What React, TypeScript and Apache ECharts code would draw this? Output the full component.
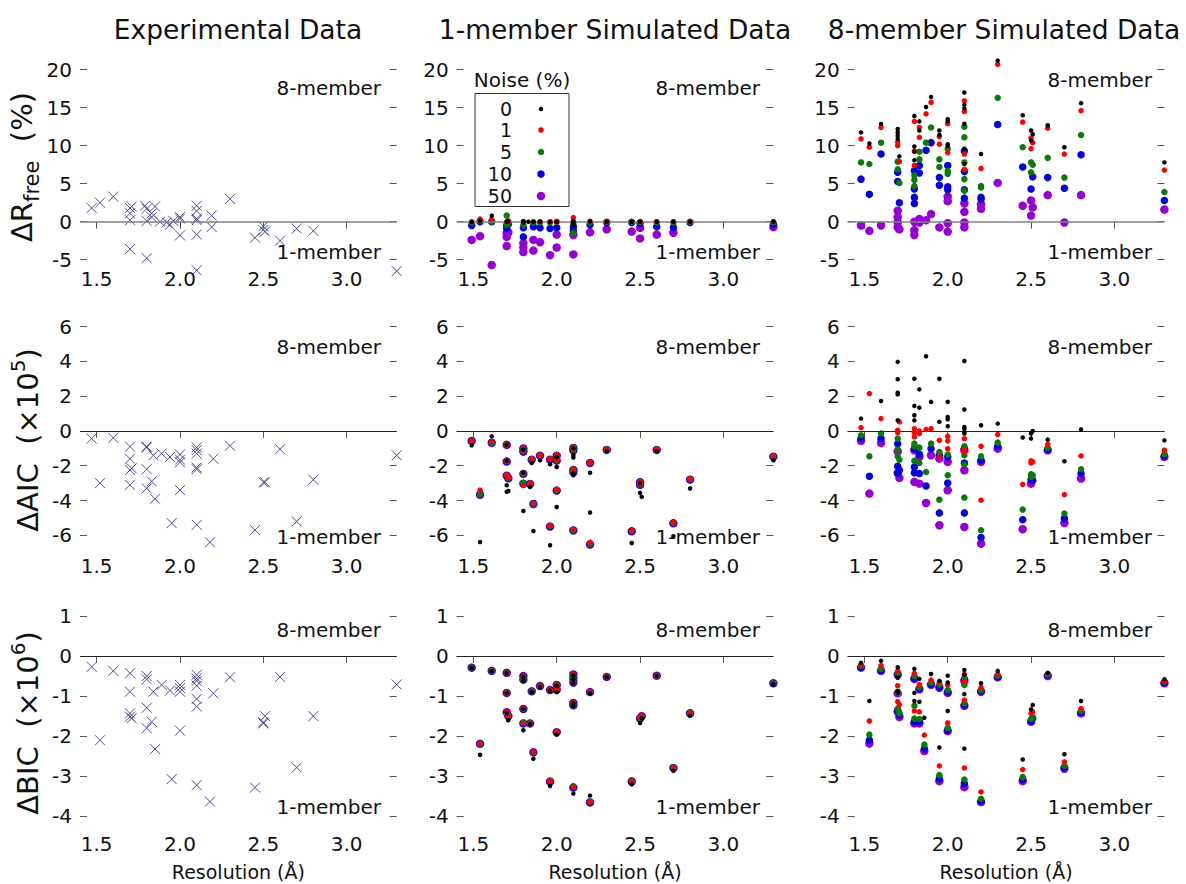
import React, { useEffect, useRef } from "react";
import * as echarts from "echarts";

const FONT = "'DejaVu Sans', Verdana, sans-serif";
const TEXT = "#111";

// ---- axes ----
const xTicks = [1.5, 2.0, 2.5, 3.0];
const rfreeTicks = [-5, 0, 5, 10, 15, 20];
const aicTicks = [-6, -4, -2, 0, 2, 4, 6];
const bicTicks = [-4, -3, -2, -1, 0, 1];
const columnTitles = ["Experimental Data", "1-member Simulated Data", "8-member Simulated Data"];
const noiseLabels = ["0", "1", "5", "10", "50"];
const noiseColors = ["#000000", "#ff0000", "#0a7a0a", "#0000e0", "#9400d3"];
const noiseSizes = [4.5, 5.5, 6.5, 7.5, 8.5];

// ---- experimental data (x: resolution Å, y: delta) ----
const rfreeExp = [
  [1.47, 1.8], [1.52, 2.5], [1.6, 3.3], [1.7, 1.1], [1.7, 1.8], [1.71, 2.0], [1.7, 0.2], [1.7, -3.6],
  [1.79, 2.1], [1.8, 1.7], [1.8, 0.1], [1.8, -4.8], [1.83, 1.1], [1.83, 0.6], [1.85, 2.0], [1.88, 0.0],
  [1.92, -0.1], [1.94, -0.4], [1.96, 0.1], [2.0, 0.4], [2.0, 0.6], [2.0, -1.8],
  [2.1, 2.1], [2.1, 1.4], [2.1, 0.4], [2.1, 0.2], [2.1, -1.7], [2.1, -6.4], [2.19, 0.8], [2.19, -0.7],
  [2.3, 3.0], [2.45, -2.1], [2.5, -0.6], [2.5, -1.1], [2.51, -1.3], [2.6, -2.5], [2.7, -0.9], [2.8, -1.2], [3.3, -6.5],
];
const aicExp = [
  [1.47, -0.44], [1.52, -3.0], [1.6, -0.4], [1.7, -0.9], [1.7, -1.6], [1.7, -2.25], [1.71, -2.15], [1.7, -3.1],
  [1.8, -0.9], [1.8, -0.95], [1.8, -2.2], [1.8, -3.3], [1.83, -2.9], [1.84, -1.4], [1.85, -3.9], [1.89, -1.3],
  [1.94, -1.5], [1.95, -5.3], [2.0, -1.35], [2.0, -1.65], [2.0, -1.8], [2.0, -3.4],
  [2.1, -0.95], [2.1, -1.1], [2.1, -1.3], [2.1, -2.1], [2.1, -2.2], [2.1, -5.4], [2.2, -1.6], [2.18, -6.4],
  [2.3, -0.85], [2.45, -5.7], [2.5, -2.95], [2.51, -2.95], [2.6, -1.05], [2.7, -5.2], [2.8, -2.8], [3.3, -1.4],
];
const bicExp = [
  [1.47, -0.27], [1.52, -2.1], [1.6, -0.37], [1.7, -0.43], [1.7, -0.89], [1.7, -1.43], [1.7, -1.51], [1.71, -1.55],
  [1.8, -0.5], [1.8, -0.58], [1.8, -1.29], [1.8, -1.8], [1.83, -1.64], [1.84, -0.89], [1.85, -2.32], [1.89, -0.72],
  [1.94, -0.86], [1.95, -3.07], [2.0, -0.72], [2.0, -0.8], [2.0, -0.89], [2.0, -1.86],
  [2.1, -0.47], [2.1, -0.56], [2.1, -0.62], [2.1, -0.74], [2.1, -1.07], [2.1, -1.26], [2.1, -3.22], [2.2, -0.93], [2.18, -3.63],
  [2.3, -0.53], [2.45, -3.28], [2.5, -1.68], [2.5, -1.65], [2.51, -1.5], [2.6, -0.52], [2.7, -2.78], [2.8, -1.5], [3.3, -0.71],
];

// ---- 1-member simulated, ΔRfree ----
const rfree1_n0 = [[1.49, -0.05], [1.54, 0.1], [1.61, 0.8], [1.7, 0], [1.71, 0.05], [1.8, -0.1], [1.8, 0.05], [1.83, 0], [1.86, 0], [1.9, 0], [1.96, 0], [2.0, 0], [2.1, 0.1], [2.1, -0.2], [2.1, -0.4], [2.2, 0.05], [2.3, 0], [2.45, 0], [2.5, 0], [2.6, 0], [2.7, 0], [2.8, 0], [3.3, 0]];
const rfree1_n1 = [[1.49, 0], [1.54, 0.35], [1.61, 0.35], [1.7, 0], [1.71, 0.1], [1.8, 0], [1.86, 0], [1.9, 0], [1.96, 0], [2.0, 0], [2.1, 0.55], [2.1, 0], [2.2, 0.05], [2.3, 0], [2.45, 0], [2.5, 0], [2.6, 0], [2.7, 0], [2.8, 0], [3.3, 0]];
const rfree1_n5 = [[1.49, -0.1], [1.54, 0.1], [1.61, 0], [1.7, 0.8], [1.7, -0.4], [1.71, -0.1], [1.8, -0.45], [1.86, -0.1], [1.9, -0.1], [1.96, -0.1], [2.0, 0], [2.1, -0.2], [2.1, -1.5], [2.2, -0.1], [2.3, 0], [2.45, 0], [2.5, -0.05], [2.6, -0.1], [2.7, -0.1], [2.8, 0], [3.3, -0.1]];
const rfree1_n10 = [[1.49, -0.5], [1.54, 0], [1.61, 0], [1.7, -0.5], [1.7, -0.9], [1.71, -0.3], [1.8, -2.0], [1.8, -0.8], [1.86, -0.65], [1.9, -0.8], [1.96, -0.9], [2.0, -0.8], [2.1, -0.65], [2.1, -1.2], [2.2, -0.4], [2.3, -0.1], [2.45, -0.1], [2.5, -0.2], [2.6, -0.65], [2.7, -0.75], [2.8, -0.1], [3.3, -0.35]];
const rfree1_n50 = [[1.49, -2.4], [1.54, -1.9], [1.61, -5.7], [1.7, -1.5], [1.7, -2.0], [1.7, -3.2], [1.71, -1.4], [1.8, -2.85], [1.8, -3.4], [1.8, -4.0], [1.86, -2.4], [1.86, -3.8], [1.9, -2.7], [1.96, -4.4], [2.0, -1.7], [2.0, -3.4], [2.1, -1.75], [2.1, -4.3], [2.2, -1.4], [2.3, -1.0], [2.45, -1.3], [2.5, -2.2], [2.5, -0.8], [2.6, -1.7], [2.7, -1.45], [3.3, -0.7]];

// ---- 8-member simulated, ΔRfree ----
const rfree8_n0 = [[1.48, 11.75], [1.53, 10.3], [1.6, 12.85], [1.7, 12.2], [1.7, 11.75], [1.7, 11.3], [1.7, 10.9], [1.71, 8.6], [1.8, 13.9], [1.8, 9.9], [1.8, 9.2], [1.8, 8.1], [1.83, 13.2], [1.83, 12.0], [1.87, 15.1], [1.9, 16.4], [1.95, 12.0], [1.95, 11.4], [2.0, 13.5], [2.0, 13.2], [2.0, 10.2], [2.0, 10.0], [2.1, 17.0], [2.1, 15.4], [2.1, 14.9], [2.1, 12.9], [2.1, 9.6], [2.1, 7.6], [2.2, 8.9], [2.3, 21.2], [2.45, 14.0], [2.5, 12.0], [2.5, 10.7], [2.51, 11.5], [2.6, 12.7], [2.7, 9.8], [2.8, 15.6], [3.3, 7.8]];
const rfree8_n1 = [[1.48, 10.9], [1.53, 9.8], [1.6, 12.4], [1.7, 10.5], [1.7, 10.0], [1.71, 7.9], [1.8, 13.2], [1.8, 9.3], [1.8, 7.4], [1.83, 12.4], [1.83, 11.1], [1.87, 14.2], [1.9, 15.7], [1.95, 11.2], [1.95, 10.2], [2.0, 12.9], [2.0, 9.1], [2.1, 15.9], [2.1, 14.5], [2.1, 8.9], [2.1, 6.9], [2.2, 7.0], [2.3, 20.7], [2.45, 13.1], [2.5, 11.0], [2.5, 9.6], [2.51, 10.4], [2.6, 12.3], [2.7, 8.9], [2.8, 14.6], [3.3, 6.8]];
const rfree8_n5 = [[1.48, 7.8], [1.53, 7.6], [1.6, 10.4], [1.7, 7.9], [1.7, 6.9], [1.71, 5.1], [1.8, 6.1], [1.8, 5.5], [1.8, 4.7], [1.83, 9.2], [1.83, 8.2], [1.87, 10.4], [1.9, 12.4], [1.95, 8.2], [1.95, 7.2], [2.0, 9.6], [2.0, 6.7], [2.0, 6.3], [2.1, 12.5], [2.1, 11.1], [2.1, 7.8], [2.1, 5.6], [2.1, 4.1], [2.2, 4.7], [2.2, 4.5], [2.3, 16.3], [2.45, 9.8], [2.5, 7.8], [2.5, 6.5], [2.51, 7.5], [2.6, 8.4], [2.7, 5.8], [2.8, 11.4], [3.3, 3.9]];
const rfree8_n10 = [[1.48, 5.6], [1.53, 3.6], [1.6, 8.9], [1.7, 6.5], [1.7, 5.3], [1.71, 2.5], [1.8, 6.7], [1.8, 4.3], [1.8, 3.2], [1.8, 2.4], [1.83, 7.4], [1.83, 6.4], [1.87, 9.4], [1.9, 10.4], [1.95, 5.8], [1.95, 4.8], [2.0, 7.4], [2.0, 4.6], [2.0, 4.2], [2.1, 9.3], [2.1, 6.6], [2.1, 4.2], [2.1, 3.1], [2.2, 3.0], [2.2, 3.2], [2.3, 12.8], [2.45, 7.2], [2.5, 4.3], [2.51, 5.9], [2.6, 5.8], [2.7, 4.4], [2.8, 8.8], [3.3, 2.8]];
const rfree8_n50 = [[1.48, -0.5], [1.53, -1.2], [1.6, -0.5], [1.7, 1.45], [1.7, 0.6], [1.7, -0.1], [1.7, -0.75], [1.71, -1.0], [1.8, 0.0], [1.8, -1.1], [1.8, -1.75], [1.83, 0.35], [1.83, -0.1], [1.87, 0.2], [1.9, 1.0], [1.95, -0.75], [2.0, 3.3], [2.0, 2.7], [2.0, -0.2], [2.0, -1.3], [2.1, 2.4], [2.1, 1.3], [2.1, -0.1], [2.1, -0.75], [2.2, 2.3], [2.2, 1.7], [2.3, 5.1], [2.45, 2.1], [2.5, 2.8], [2.5, 0.8], [2.51, 1.9], [2.6, 3.5], [2.7, -0.1], [2.8, 3.5], [3.3, 1.6]];

// ---- 1-member simulated, ΔAIC (×10^5) ----
const aic1_n0 = [[1.49, -0.82], [1.54, -6.38], [1.61, -0.31], [1.7, -0.8], [1.7, -1.72], [1.7, -3.12], [1.7, -3.5], [1.71, -3.45], [1.8, -1.07], [1.8, -2.41], [1.8, -4.6], [1.84, -3.22], [1.85, -1.84], [1.86, -5.75], [1.9, -1.69], [1.96, -1.92], [1.96, -6.57], [2.0, -1.49], [2.0, -2.07], [2.0, -4.37], [2.1, -1.0], [2.1, -1.4], [2.1, -1.53], [2.1, -2.45], [2.1, -2.55], [2.2, -2.4], [2.2, -4.69], [2.3, -1.15], [2.45, -6.44], [2.5, -3.0], [2.5, -3.56], [2.51, -3.79], [2.6, -1.17], [2.7, -6.05], [2.8, -3.31], [3.3, -1.69]];
const aic1_n1 = [[1.49, -0.55], [1.54, -3.4], [1.61, -0.6], [1.7, -0.79], [1.7, -1.74], [1.7, -2.52], [1.71, -2.68], [1.8, -0.98], [1.8, -1.15], [1.8, -2.42], [1.8, -3.15], [1.84, -3.0], [1.85, -1.6], [1.86, -4.16], [1.9, -1.38], [1.96, -1.6], [1.96, -5.45], [2.0, -1.38], [2.0, -1.67], [2.0, -3.38], [2.1, -0.94], [2.1, -1.08], [2.1, -2.2], [2.1, -2.34], [2.1, -5.66], [2.2, -1.8], [2.2, -6.4], [2.3, -1.05], [2.45, -5.73], [2.5, -2.9], [2.5, -3.05], [2.6, -1.05], [2.7, -5.27], [2.8, -2.76], [3.3, -1.44]];
const aic1_n5 = [[1.49, -0.57], [1.54, -3.65], [1.61, -0.67], [1.7, -0.79], [1.7, -1.74], [1.7, -2.55], [1.71, -2.7], [1.8, -1.0], [1.8, -1.17], [1.8, -2.45], [1.8, -3.0], [1.84, -3.03], [1.85, -1.63], [1.86, -4.18], [1.9, -1.4], [1.96, -1.63], [1.96, -5.48], [2.0, -1.4], [2.0, -1.69], [2.0, -3.41], [2.1, -0.96], [2.1, -1.1], [2.1, -2.22], [2.1, -2.36], [2.1, -5.7], [2.2, -1.82], [2.2, -6.5], [2.3, -1.07], [2.45, -5.75], [2.5, -2.93], [2.5, -3.08], [2.6, -1.07], [2.7, -5.29], [2.8, -2.78], [3.3, -1.46]];
const aic1_n10 = [[1.49, -0.57], [1.54, -3.66], [1.61, -0.67], [1.7, -0.8], [1.7, -1.75], [1.7, -2.56], [1.71, -2.71], [1.8, -1.0], [1.8, -1.18], [1.8, -2.46], [1.8, -3.02], [1.84, -3.04], [1.85, -1.64], [1.86, -4.19], [1.9, -1.41], [1.96, -1.64], [1.96, -5.49], [2.0, -1.41], [2.0, -1.7], [2.0, -3.42], [2.1, -0.97], [2.1, -1.11], [2.1, -2.23], [2.1, -2.37], [2.1, -5.71], [2.2, -1.83], [2.2, -6.52], [2.3, -1.08], [2.45, -5.76], [2.5, -2.94], [2.5, -3.09], [2.6, -1.08], [2.7, -5.3], [2.8, -2.79], [3.3, -1.47]];
const aic1_n50 = [[1.49, -0.58], [1.54, -3.67], [1.61, -0.68], [1.7, -0.8], [1.7, -1.76], [1.7, -2.57], [1.71, -2.72], [1.8, -1.01], [1.8, -1.19], [1.8, -2.47], [1.8, -3.03], [1.84, -3.05], [1.85, -1.65], [1.86, -4.2], [1.9, -1.42], [1.96, -1.65], [1.96, -5.5], [2.0, -1.42], [2.0, -1.71], [2.0, -3.43], [2.1, -0.98], [2.1, -1.12], [2.1, -2.24], [2.1, -2.38], [2.1, -5.72], [2.2, -1.84], [2.2, -6.53], [2.3, -1.09], [2.45, -5.77], [2.5, -2.95], [2.5, -3.1], [2.6, -1.09], [2.7, -5.31], [2.8, -2.8], [3.3, -1.48]];

// ---- 8-member simulated, ΔAIC (×10^5) ----
const aic8_n0 = [[1.48, 0.71], [1.6, 1.72], [1.7, 3.97], [1.7, 2.97], [1.7, 2.2], [1.7, 2.1], [1.7, 0.61], [1.8, 3.0], [1.8, 1.44], [1.8, 0.9], [1.8, 0.61], [1.83, 2.39], [1.83, 1.34], [1.87, 4.29], [1.9, 1.67], [1.95, 3.0], [1.95, 0.52], [2.0, 1.67], [2.0, 0.8], [2.0, 0.67], [2.0, 0.27], [2.1, 4.02], [2.1, 1.23], [2.1, 0.23], [2.1, 0.13], [2.1, -0.06], [2.1, -0.15], [2.2, 0.33], [2.3, 0.42], [2.45, -0.38], [2.5, -0.15], [2.5, -0.44], [2.51, 0.0], [2.6, -0.5], [2.7, -1.74], [2.8, 0.08], [3.3, -0.54]];
const aic8_n1 = [[1.48, 0.19], [1.53, 2.15], [1.6, 0.71], [1.7, 0.04], [1.7, -0.1], [1.71, 0.52], [1.8, 0.13], [1.8, -0.11], [1.8, -0.34], [1.83, 0.0], [1.83, -0.15], [1.87, 0.08], [1.9, 0.13], [1.95, -0.54], [1.95, -1.49], [2.0, -0.31], [2.0, -0.57], [2.0, -1.02], [2.1, -0.44], [2.1, -1.07], [2.1, -1.21], [2.2, -0.88], [2.2, -3.98], [2.3, -0.21], [2.45, -3.07], [2.5, -1.72], [2.5, -1.84], [2.51, -1.78], [2.6, -0.77], [2.7, -3.66], [2.8, -1.44], [3.3, -1.11]];
const aic8_n5 = [[1.48, -0.25], [1.53, -1.46], [1.6, -0.15], [1.7, -0.44], [1.7, -1.07], [1.7, -1.46], [1.71, -1.65], [1.8, -0.73], [1.8, -0.88], [1.8, -1.72], [1.83, -0.96], [1.83, -1.84], [1.87, -2.36], [1.9, -0.73], [1.95, -1.21], [1.95, -3.95], [2.0, -1.36], [2.0, -2.55], [2.1, -0.88], [2.1, -1.4], [2.1, -1.93], [2.1, -3.83], [2.2, -1.46], [2.2, -5.71], [2.3, -0.67], [2.45, -4.52], [2.5, -2.49], [2.5, -2.64], [2.51, -2.55], [2.6, -0.98], [2.7, -4.75], [2.8, -2.2], [3.3, -1.34]];
const aic8_n10 = [[1.48, -0.44], [1.53, -2.6], [1.6, -0.44], [1.7, -0.73], [1.7, -2.03], [1.7, -2.45], [1.71, -2.26], [1.8, -1.02], [1.8, -2.07], [1.8, -2.41], [1.83, -1.34], [1.83, -2.45], [1.87, -3.16], [1.9, -1.02], [1.95, -1.4], [1.95, -4.71], [2.0, -1.49], [2.0, -2.99], [2.1, -1.02], [2.1, -1.84], [2.1, -4.71], [2.2, -1.69], [2.2, -6.13], [2.3, -0.88], [2.45, -5.1], [2.5, -2.8], [2.51, -2.84], [2.6, -1.07], [2.7, -5.04], [2.8, -2.45], [3.3, -1.44]];
const aic8_n50 = [[1.48, -0.57], [1.53, -3.6], [1.6, -0.69], [1.7, -1.17], [1.7, -2.41], [1.71, -2.7], [1.8, -1.11], [1.8, -2.93], [1.83, -1.49], [1.83, -3.03], [1.87, -4.14], [1.9, -1.4], [1.95, -1.59], [1.95, -5.42], [2.0, -1.78], [2.0, -3.41], [2.1, -1.11], [2.1, -2.26], [2.1, -5.52], [2.2, -1.78], [2.2, -6.48], [2.3, -1.02], [2.45, -5.65], [2.5, -3.03], [2.6, -1.11], [2.7, -5.29], [2.8, -2.74], [3.3, -1.49]];

// ---- 1-member simulated, ΔBIC (×10^6) ----
const bic1_n0 = [[1.49, -0.3], [1.54, -2.46], [1.61, -0.38], [1.7, -0.43], [1.7, -0.93], [1.7, -1.42], [1.71, -1.6], [1.8, -0.52], [1.8, -0.62], [1.8, -1.33], [1.8, -1.85], [1.84, -1.7], [1.85, -0.9], [1.86, -2.56], [1.9, -0.77], [1.96, -0.87], [1.96, -3.24], [2.0, -0.74], [2.0, -0.9], [2.0, -1.96], [2.1, -0.48], [2.1, -0.58], [2.1, -0.68], [2.1, -1.18], [2.1, -1.24], [2.1, -3.43], [2.2, -0.93], [2.2, -3.48], [2.3, -0.53], [2.45, -3.2], [2.5, -1.67], [2.51, -1.55], [2.6, -0.5], [2.7, -2.86], [2.8, -1.49], [3.3, -0.7]];
const bic1_n1 = [[1.49, -0.29], [1.54, -2.18], [1.61, -0.37], [1.7, -0.42], [1.7, -0.92], [1.7, -1.39], [1.71, -1.49], [1.8, -0.49], [1.8, -0.58], [1.8, -1.31], [1.8, -1.68], [1.84, -1.68], [1.85, -0.88], [1.86, -2.39], [1.9, -0.75], [1.96, -0.85], [1.96, -3.12], [2.0, -0.72], [2.0, -0.83], [2.0, -1.89], [2.1, -0.46], [2.1, -0.56], [2.1, -0.66], [2.1, -1.16], [2.1, -1.22], [2.1, -3.27], [2.2, -0.89], [2.2, -3.64], [2.3, -0.52], [2.45, -3.12], [2.5, -1.54], [2.51, -1.49], [2.6, -0.49], [2.7, -2.78], [2.8, -1.42], [3.3, -0.68]];
const bic1_n5 = [[1.49, -0.29], [1.54, -2.19], [1.61, -0.37], [1.7, -0.42], [1.7, -0.92], [1.7, -1.4], [1.71, -1.5], [1.8, -0.52], [1.8, -0.6], [1.8, -1.32], [1.8, -1.66], [1.84, -1.68], [1.85, -0.88], [1.86, -2.4], [1.9, -0.75], [1.96, -0.85], [1.96, -3.12], [2.0, -0.72], [2.0, -0.84], [2.0, -1.9], [2.1, -0.46], [2.1, -0.56], [2.1, -0.66], [2.1, -1.17], [2.1, -1.23], [2.1, -3.25], [2.2, -0.9], [2.2, -3.64], [2.3, -0.52], [2.45, -3.12], [2.5, -1.55], [2.51, -1.5], [2.6, -0.49], [2.7, -2.78], [2.8, -1.42], [3.3, -0.68]];
const bic1_n10 = [[1.49, -0.29], [1.54, -2.19], [1.61, -0.37], [1.7, -0.42], [1.7, -0.92], [1.7, -1.4], [1.71, -1.5], [1.8, -0.5], [1.8, -0.59], [1.8, -1.32], [1.8, -1.68], [1.84, -1.68], [1.85, -0.88], [1.86, -2.4], [1.9, -0.75], [1.96, -0.85], [1.96, -3.13], [2.0, -0.72], [2.0, -0.84], [2.0, -1.9], [2.1, -0.46], [2.1, -0.56], [2.1, -0.66], [2.1, -1.17], [2.1, -1.23], [2.1, -3.27], [2.2, -0.9], [2.2, -3.65], [2.3, -0.52], [2.45, -3.12], [2.5, -1.55], [2.51, -1.5], [2.6, -0.49], [2.7, -2.79], [2.8, -1.42], [3.3, -0.68]];
const bic1_n50 = [[1.49, -0.29], [1.54, -2.19], [1.61, -0.37], [1.7, -0.42], [1.7, -0.92], [1.7, -1.4], [1.71, -1.5], [1.8, -0.5], [1.8, -0.59], [1.8, -1.32], [1.8, -1.68], [1.84, -1.68], [1.85, -0.88], [1.86, -2.4], [1.9, -0.75], [1.96, -0.85], [1.96, -3.13], [2.0, -0.72], [2.0, -0.84], [2.0, -1.9], [2.1, -0.46], [2.1, -0.56], [2.1, -0.66], [2.1, -1.17], [2.1, -1.23], [2.1, -3.28], [2.2, -0.9], [2.2, -3.65], [2.3, -0.52], [2.45, -3.13], [2.5, -1.56], [2.51, -1.5], [2.6, -0.49], [2.7, -2.79], [2.8, -1.43], [3.3, -0.68]];

// ---- 8-member simulated, ΔBIC (×10^6) ----
const bic8_n0 = [[1.48, -0.17], [1.53, -1.12], [1.6, -0.12], [1.7, -0.28], [1.7, -0.54], [1.7, -0.87], [1.7, -0.92], [1.8, -0.32], [1.8, -0.92], [1.8, -1.12], [1.83, -0.57], [1.83, -1.14], [1.86, -1.54], [1.9, -0.45], [1.95, -0.62], [1.95, -2.28], [2.0, -0.49], [2.0, -0.66], [2.0, -1.37], [2.1, -0.35], [2.1, -0.47], [2.1, -0.95], [2.1, -2.31], [2.2, -0.68], [2.3, -0.37], [2.45, -2.58], [2.5, -1.33], [2.51, -1.22], [2.6, -0.42], [2.7, -2.45], [2.8, -1.12], [3.3, -0.58]];
const bic8_n1 = [[1.48, -0.21], [1.53, -1.62], [1.6, -0.24], [1.7, -0.37], [1.7, -0.74], [1.7, -1.14], [1.71, -1.21], [1.8, -0.43], [1.8, -1.37], [1.83, -0.71], [1.83, -1.39], [1.86, -1.97], [1.9, -0.6], [1.95, -0.66], [1.95, -2.74], [2.0, -0.72], [2.0, -1.67], [2.1, -0.46], [2.1, -0.64], [2.1, -1.1], [2.1, -2.79], [2.2, -0.79], [2.2, -3.39], [2.3, -0.45], [2.45, -2.83], [2.5, -1.43], [2.51, -1.39], [2.6, -0.44], [2.7, -2.64], [2.8, -1.31], [3.3, -0.62]];
const bic8_n5 = [[1.48, -0.25], [1.53, -1.96], [1.6, -0.32], [1.7, -0.42], [1.7, -0.89], [1.7, -1.31], [1.71, -1.43], [1.8, -0.5], [1.8, -1.24], [1.8, -1.56], [1.83, -0.78], [1.83, -1.57], [1.86, -2.21], [1.9, -0.67], [1.95, -0.71], [1.95, -2.97], [2.0, -0.85], [2.0, -1.79], [2.1, -0.56], [2.1, -0.72], [2.1, -1.18], [2.1, -3.08], [2.2, -0.85], [2.2, -3.56], [2.3, -0.49], [2.45, -3.02], [2.5, -1.57], [2.51, -1.52], [2.6, -0.46], [2.7, -2.74], [2.8, -1.37], [3.3, -0.64]];
const bic8_n10 = [[1.48, -0.28], [1.53, -2.1], [1.6, -0.37], [1.7, -0.45], [1.7, -1.35], [1.71, -1.47], [1.8, -0.56], [1.8, -1.64], [1.83, -0.81], [1.83, -1.64], [1.86, -2.31], [1.9, -0.7], [1.95, -0.77], [1.95, -3.06], [2.0, -0.89], [2.0, -1.85], [2.1, -0.58], [2.1, -1.22], [2.1, -3.18], [2.2, -0.87], [2.2, -3.62], [2.3, -0.52], [2.45, -3.08], [2.5, -1.62], [2.51, -1.55], [2.6, -0.48], [2.7, -2.78], [2.8, -1.41], [3.3, -0.66]];
const bic8_n50 = [[1.48, -0.29], [1.53, -2.18], [1.6, -0.37], [1.7, -0.47], [1.7, -0.93], [1.7, -1.39], [1.71, -1.52], [1.8, -0.57], [1.8, -1.68], [1.83, -0.83], [1.83, -1.68], [1.86, -2.37], [1.9, -0.72], [1.95, -0.79], [1.95, -3.12], [2.0, -0.92], [2.0, -1.87], [2.1, -0.62], [2.1, -1.24], [2.1, -3.27], [2.2, -0.89], [2.2, -3.64], [2.3, -0.53], [2.45, -3.12], [2.5, -1.64], [2.6, -0.5], [2.7, -2.81], [2.8, -1.43], [3.3, -0.68]];

// ---- layout ----
const COL_LEFT = [80, 456.7, 847.7];
const COL_W = 316.7;
const ROWS = [
  { min: -6.5, max: 22, top: 54.5, height: 216.6, ticks: rfreeTicks, zero: "#808080", zeroW: 1.6, labelMargin: -2 },
  { min: -7.2, max: 6.4, top: 319.6, height: 236.6, ticks: aicTicks, zero: "#222222", zeroW: 1, labelMargin: 0 },
  { min: -4.5, max: 1.15, top: 609.9, height: 226.6, ticks: bicTicks, zero: "#222222", zeroW: 1, labelMargin: -3 },
];
const expData = [rfreeExp, aicExp, bicExp];
const sim1 = [
  [rfree1_n0, rfree1_n1, rfree1_n5, rfree1_n10, rfree1_n50],
  [aic1_n0, aic1_n1, aic1_n5, aic1_n10, aic1_n50],
  [bic1_n0, bic1_n1, bic1_n5, bic1_n10, bic1_n50],
];
const sim8 = [
  [rfree8_n0, rfree8_n1, rfree8_n5, rfree8_n10, rfree8_n50],
  [aic8_n0, aic8_n1, aic8_n5, aic8_n10, aic8_n50],
  [bic8_n0, bic8_n1, bic8_n5, bic8_n10, bic8_n50],
];

function buildOption() {
  const grid: any[] = [];
  const xAxis: any[] = [];
  const yAxis: any[] = [];
  const series: any[] = [];
  const tickLine = { color: "#555", width: 1 };

  for (let r = 0; r < 3; r++) {
    const row = ROWS[r];
    for (let c = 0; c < 3; c++) {
      const g = r * 3 + c;
      grid.push({ left: COL_LEFT[c], top: row.top, width: COL_W, height: row.height, containLabel: false });
      xAxis.push({
        type: "value", gridIndex: g, position: "bottom", min: 1.4, max: 3.3,
        axisLine: { show: false }, axisTick: { show: false }, splitLine: { show: false },
        axisLabel: {
          customValues: xTicks, formatter: (v: number) => v.toFixed(1), margin: row.labelMargin,
          fontSize: 20, fontFamily: FONT, color: TEXT,
        },
      });
      xAxis.push({
        type: "value", gridIndex: g, position: "top", min: 1.4, max: 3.3,
        axisLine: { show: false }, splitLine: { show: false }, axisLabel: { show: false },
        axisTick: { show: true, inside: true, length: 7, customValues: xTicks, lineStyle: tickLine },
      });
      yAxis.push({
        type: "value", gridIndex: g, position: "left", min: row.min, max: row.max,
        axisLine: { show: false }, splitLine: { show: false },
        axisTick: { show: true, inside: true, length: 7, customValues: row.ticks, lineStyle: tickLine },
        axisLabel: { customValues: row.ticks, margin: 8, fontSize: 20, fontFamily: FONT, color: TEXT },
      });
      yAxis.push({
        type: "value", gridIndex: g, position: "right", min: row.min, max: row.max,
        axisLine: { show: false }, splitLine: { show: false }, axisLabel: { show: false },
        axisTick: { show: true, inside: true, length: 7, customValues: row.ticks, lineStyle: tickLine },
      });
      const xi = 2 * g;
      const yi = 2 * g;
      // zero line
      series.push({
        type: "scatter", xAxisIndex: xi, yAxisIndex: yi, data: [], z: 1, silent: true,
        markLine: {
          silent: true, symbol: ["none", "none"], label: { show: false },
          lineStyle: { color: row.zero, width: row.zeroW, type: "solid" },
          emphasis: { disabled: true },
          data: [{ yAxis: 0 }],
        },
      });
      if (c === 0) {
        series.push({
          type: "scatter", xAxisIndex: xi, yAxisIndex: yi, data: expData[r], z: 3, clip: false,
          symbol: "path://M0 0L10 10M10 0L0 10", symbolSize: 10,
          itemStyle: { color: "rgba(0,0,0,0)", borderColor: "#3b3b8e", borderWidth: 1, opacity: 0.9 },
        });
      } else {
        const sets = c === 1 ? sim1[r] : sim8[r];
        for (let i = 4; i >= 0; i--) {
          series.push({
            type: "scatter", xAxisIndex: xi, yAxisIndex: yi, data: sets[i], z: 2 + (4 - i), clip: false,
            symbol: "circle", symbolSize: noiseSizes[i],
            itemStyle: { color: noiseColors[i], opacity: 1 },
          });
        }
      }
    }
  }

  const graphic: any[] = [];
  const colCenter = COL_LEFT.map((l) => l + COL_W / 2);
  const txt = (text: string, x: number, y: number, size: number, align = "center") => ({
    type: "text", x, y, silent: true,
    style: { text, fontSize: size, fontFamily: FONT, fill: TEXT, align, verticalAlign: "middle" },
  });
  const titleX = [238, 615, 1004];
  columnTitles.forEach((t, c) => graphic.push(txt(t, titleX[c], 29, 26.5)));
  colCenter.forEach((cx) => graphic.push(txt("Resolution (Å)", cx, 872, 19)));

  const rightEdge = [381, 760, 1152];
  const eightY = [[88, 88, 80], [347, 347, 347], [630, 630, 630]];
  const oneY = [252, 537, 807];
  for (let r = 0; r < 3; r++) {
    for (let c = 0; c < 3; c++) {
      graphic.push(txt("8-member", rightEdge[c], eightY[r][c], 20, "right"));
      graphic.push(txt("1-member", rightEdge[c], oneY[r], 20, "right"));
    }
  }

  // y-axis titles (rotated)
  const yTitleRich = {
    a: { fontSize: 29, fontFamily: FONT, fill: TEXT, lineHeight: 40 },
    s: { fontSize: 21, fontFamily: FONT, fill: TEXT, lineHeight: 21, verticalAlign: "bottom" },
    p: { fontSize: 20, fontFamily: FONT, fill: TEXT, lineHeight: 20, verticalAlign: "top" },
  };
  const yTitles = [
    { text: "{a|ΔR}{s|free}{a|  (%)}", x: 22, y: 167 },
    { text: "{a|ΔAIC  (×10}{p|5}{a|)}", x: 28, y: 440 },
    { text: "{a|ΔBIC  (×10}{p|6}{a|)}", x: 28, y: 723 },
  ];
  yTitles.forEach((t) =>
    graphic.push({
      type: "text", x: t.x, y: t.y, rotation: Math.PI / 2, silent: true,
      style: { text: t.text, rich: yTitleRich, fontSize: 29, fontFamily: FONT, fill: TEXT, align: "center", verticalAlign: "middle" },
    })
  );

  // noise legend
  graphic.push({
    type: "rect", silent: true, shape: { x: 475, y: 93.5, width: 94, height: 113 },
    style: { fill: "#ffffff", stroke: "#333", lineWidth: 1 }, z: 10,
  });
  graphic.push({ ...txt("Noise (%)", 522, 80, 20), z: 10 });
  const legendY = [109, 130, 152, 174, 196];
  noiseLabels.forEach((lab, i) => {
    graphic.push({ ...txt(lab, 512, legendY[i], 19, "right"), z: 11 });
    graphic.push({
      type: "circle", silent: true, z: 11,
      shape: { cx: 541, cy: legendY[i], r: noiseSizes[i] / 2 },
      style: { fill: noiseColors[i] },
    });
  });

  return { animation: false, backgroundColor: "#ffffff", grid, xAxis, yAxis, series, graphic };
}

export default function App() {
  const ref = useRef<HTMLDivElement>(null);
  useEffect(() => {
    if (!ref.current) return;
    const chart = echarts.init(ref.current, null, { renderer: "svg" });
    chart.setOption(buildOption() as any);
    return () => chart.dispose();
  }, []);
  return <div ref={ref} style={{ position: "absolute", left: 0, top: 0, width: 1186, height: 884 }} />;
}
